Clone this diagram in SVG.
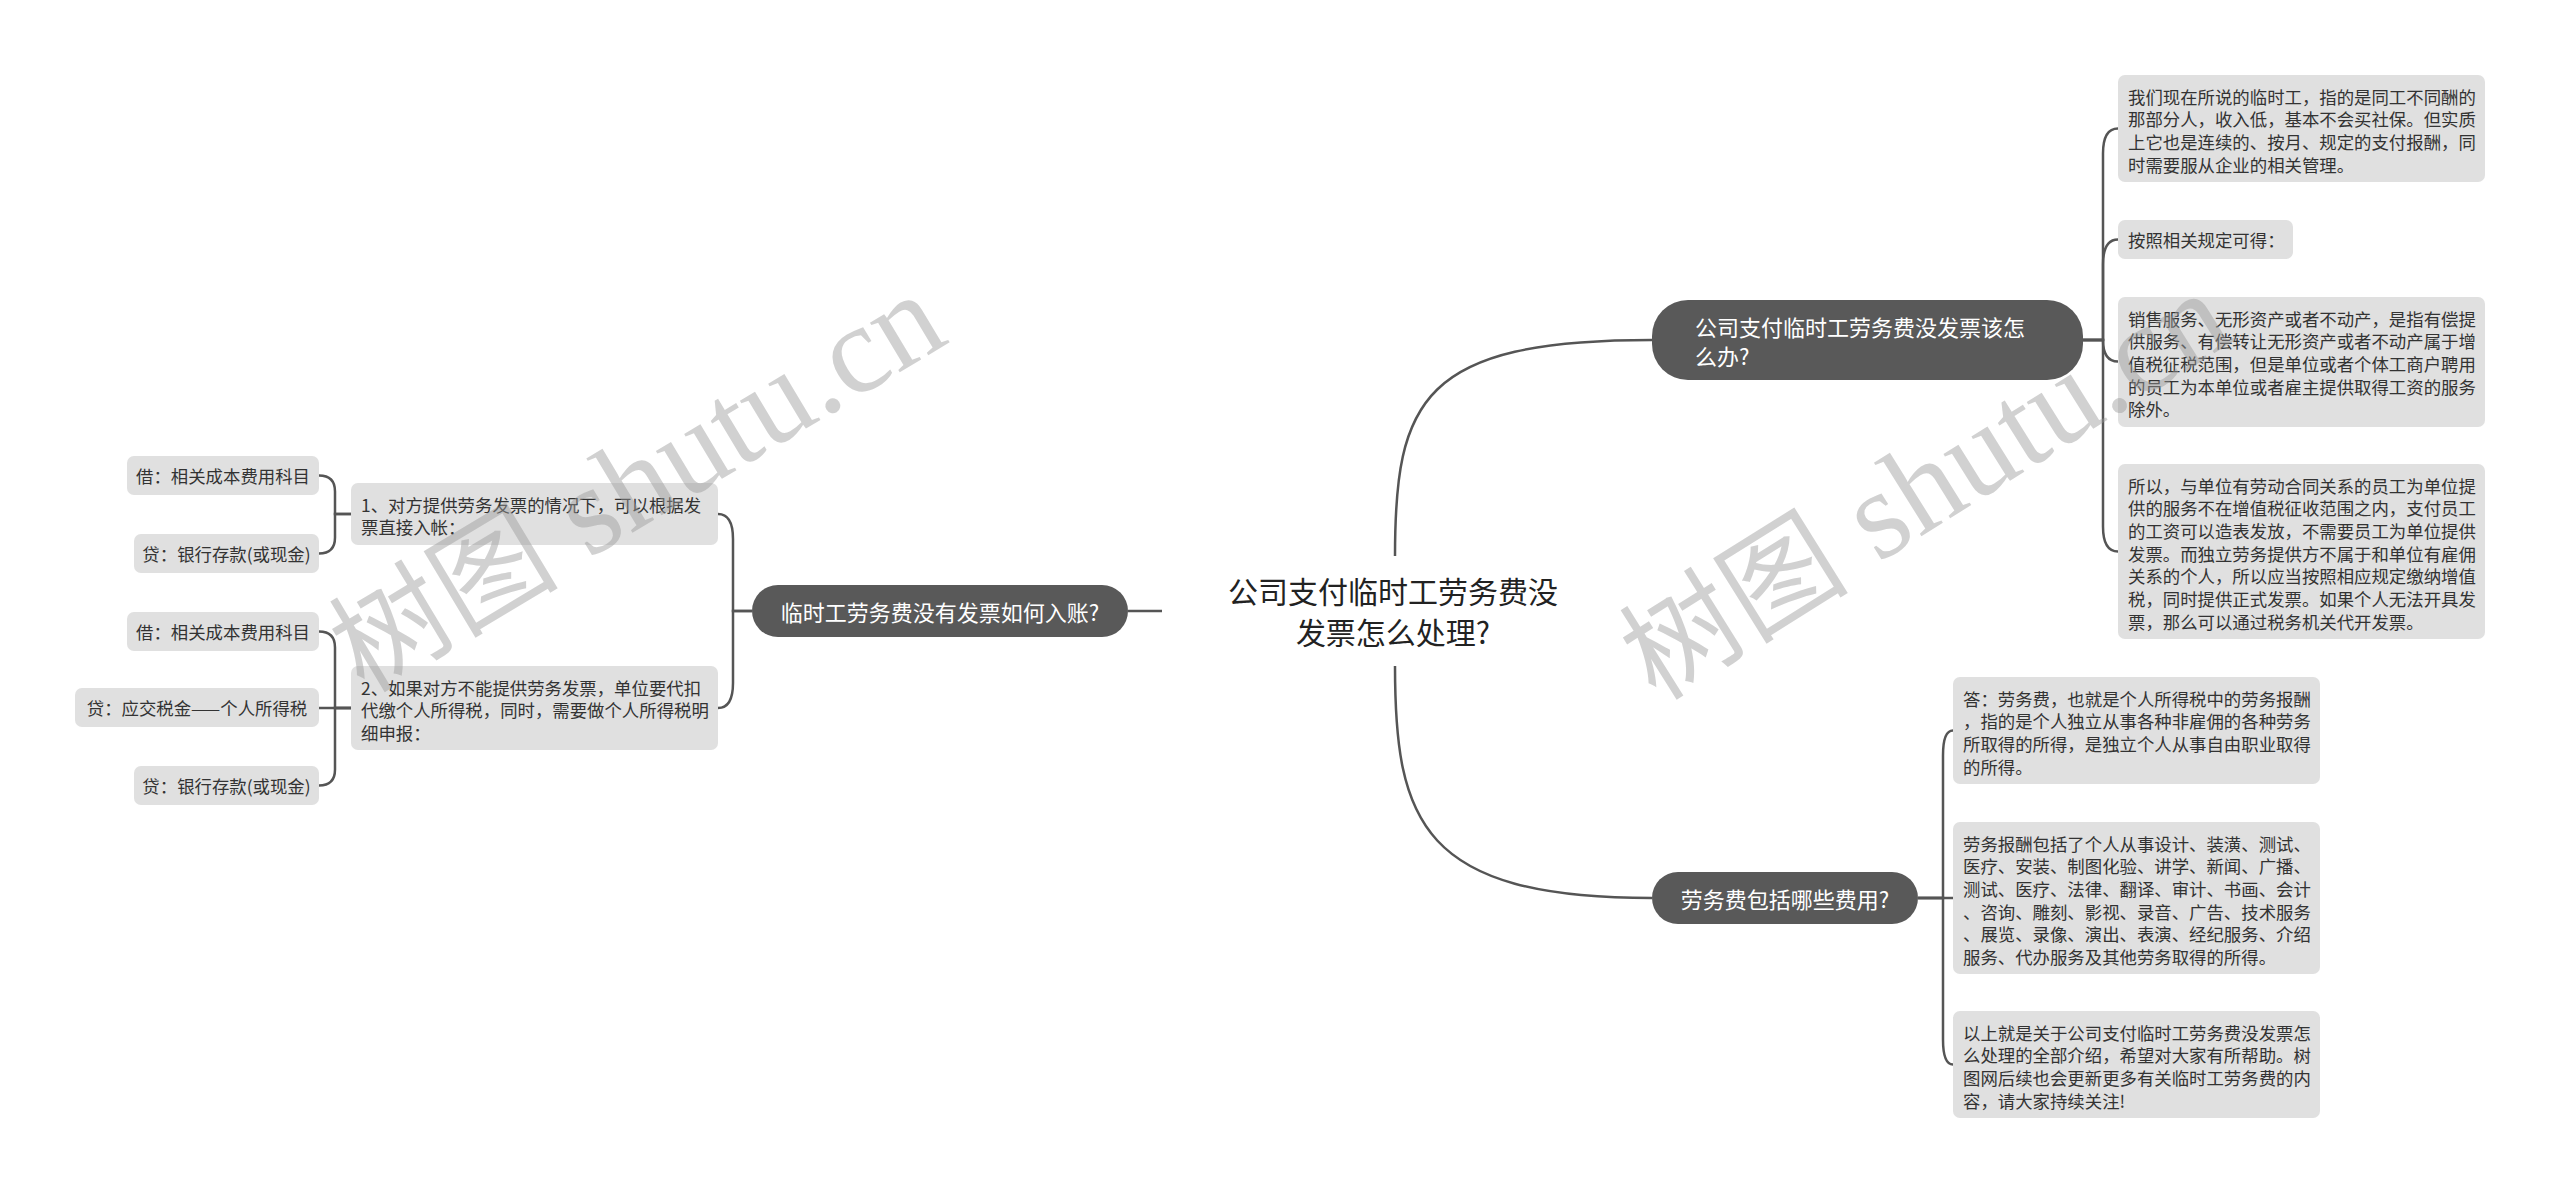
<svg xmlns="http://www.w3.org/2000/svg" width="2560" height="1193" viewBox="0 0 2560 1193">
<style>
.t{font-family:"Noto Sans CJK SC","Noto Sans",sans-serif;fill:#333;font-size:17.4px;dominant-baseline:central}
.box{fill:#e0e0e0}
.dk{fill:#595959}
.dt{font-family:"Noto Sans CJK SC","Noto Sans",sans-serif;fill:#fff;font-size:22px;dominant-baseline:central}
.root{font-family:"Noto Sans CJK SC","Noto Sans",sans-serif;fill:#222;font-size:30px;dominant-baseline:central;text-anchor:middle}
.c{fill:none;stroke:#555;stroke-width:2.5}
.wm{font-family:"Liberation Serif","Noto Sans CJK SC",serif;fill:#9a9a9a;fill-opacity:0.45}
</style>
<rect width="2560" height="1193" fill="#fff"/>
<g id="connectors">
<path class="c" d="M1395,556 C1395,400 1422,340 1652,340"/>
<path class="c" d="M1395,666 C1395,822 1422,898 1652,898"/>
<path class="c" d="M1162,611 H1128"/>
<path class="c" d="M752,611 H733 V539 Q733,514 718,514"/>
<path class="c" d="M752,611 H733 V683 Q733,708 718,708"/>
<path class="c" d="M351,514 H335 V491.5 Q335,475.5 319,475.5"/>
<path class="c" d="M351,514 H335 V537.5 Q335,553.5 319,553.5"/>
<path class="c" d="M351,708 H335 V647.5 Q335,631.5 319,631.5"/>
<path class="c" d="M351,708 H319"/>
<path class="c" d="M351,708 H335 V769.5 Q335,785.5 319,785.5"/>
<path class="c" d="M2083,340 H2103 V153.5 Q2103,128.5 2118,128.5"/>
<path class="c" d="M2083,340 H2103 V264.5 Q2103,239.5 2118,239.5"/>
<path class="c" d="M2083,340 H2103 Q2103,361.5 2118,361.5"/>
<path class="c" d="M2083,340 H2103 V526.5 Q2103,551.5 2118,551.5"/>
<path class="c" d="M1918,898 H1943 V755.5 Q1943,730.5 1953,730.5"/>
<path class="c" d="M1918,898 H1953"/>
<path class="c" d="M1918,898 H1943 V1039.5 Q1943,1064.5 1953,1064.5"/>
</g>
<g id="root">
<text class="root" x="1393" y="590">公司支付临时工劳务费没</text>
<text class="root" x="1393" y="631">发票怎么处理?</text>
</g>
<g id="n-top">
<rect class="dk" x="1652" y="300" width="431" height="80" rx="36"/>
<text class="dt" x="1695"><tspan x="1695" y="325.5">公司支付临时工劳务费没发票该怎</tspan><tspan x="1695" y="354.5">么办?</tspan></text>
</g>
<g id="n-bottom">
<rect class="dk" x="1652" y="872" width="266" height="52" rx="26"/>
<text class="dt" x="1785" y="898" text-anchor="middle">劳务费包括哪些费用?</text>
</g>
<g id="n-left">
<rect class="dk" x="752" y="585" width="376" height="52" rx="26"/>
<text class="dt" x="940" y="611" text-anchor="middle">临时工劳务费没有发票如何入账?</text>
</g>
<g id="r1">
<rect class="box" x="2118" y="75" width="367" height="107" rx="7"/>
<text class="t"><tspan x="2128" y="95.5">我们现在所说的临时工，指的是同工不同酬的</tspan><tspan x="2128" y="118.2">那部分人，收入低，基本不会买社保。但实质</tspan><tspan x="2128" y="140.8">上它也是连续的、按月、规定的支付报酬，同</tspan><tspan x="2128" y="163.5">时需要服从企业的相关管理。</tspan></text>
</g>
<g id="r2">
<rect class="box" x="2118" y="220" width="175" height="39" rx="7"/>
<text class="t" x="2128" y="239.5">按照相关规定可得：</text>
</g>
<g id="r3">
<rect class="box" x="2118" y="297" width="367" height="130" rx="7"/>
<text class="t"><tspan x="2128" y="317.5">销售服务、无形资产或者不动产，是指有偿提</tspan><tspan x="2128" y="340.2">供服务、有偿转让无形资产或者不动产属于增</tspan><tspan x="2128" y="362.8">值税征税范围，但是单位或者个体工商户聘用</tspan><tspan x="2128" y="385.5">的员工为本单位或者雇主提供取得工资的服务</tspan><tspan x="2128" y="408.2">除外。</tspan></text>
</g>
<g id="r4">
<rect class="box" x="2118" y="464" width="367" height="175" rx="7"/>
<text class="t"><tspan x="2128" y="484.5">所以，与单位有劳动合同关系的员工为单位提</tspan><tspan x="2128" y="507.2">供的服务不在增值税征收范围之内，支付员工</tspan><tspan x="2128" y="529.8">的工资可以造表发放，不需要员工为单位提供</tspan><tspan x="2128" y="552.5">发票。而独立劳务提供方不属于和单位有雇佣</tspan><tspan x="2128" y="575.2">关系的个人，所以应当按照相应规定缴纳增值</tspan><tspan x="2128" y="597.8">税，同时提供正式发票。如果个人无法开具发</tspan><tspan x="2128" y="620.5">票，那么可以通过税务机关代开发票。</tspan></text>
</g>
<g id="b1">
<rect class="box" x="1953" y="677" width="367" height="107" rx="7"/>
<text class="t"><tspan x="1963" y="697.5">答：劳务费，也就是个人所得税中的劳务报酬</tspan><tspan x="1963" y="720.2">，指的是个人独立从事各种非雇佣的各种劳务</tspan><tspan x="1963" y="742.8">所取得的所得，是独立个人从事自由职业取得</tspan><tspan x="1963" y="765.5">的所得。</tspan></text>
</g>
<g id="b2">
<rect class="box" x="1953" y="822" width="367" height="152" rx="7"/>
<text class="t"><tspan x="1963" y="842.5">劳务报酬包括了个人从事设计、装潢、测试、</tspan><tspan x="1963" y="865.2">医疗、安装、制图化验、讲学、新闻、广播、</tspan><tspan x="1963" y="887.8">测试、医疗、法律、翻译、审计、书画、会计</tspan><tspan x="1963" y="910.5">、咨询、雕刻、影视、录音、广告、技术服务</tspan><tspan x="1963" y="933.2">、展览、录像、演出、表演、经纪服务、介绍</tspan><tspan x="1963" y="955.8">服务、代办服务及其他劳务取得的所得。</tspan></text>
</g>
<g id="b3">
<rect class="box" x="1953" y="1011" width="367" height="107" rx="7"/>
<text class="t"><tspan x="1963" y="1031.5">以上就是关于公司支付临时工劳务费没发票怎</tspan><tspan x="1963" y="1054.2">么处理的全部介绍，希望对大家有所帮助。树</tspan><tspan x="1963" y="1076.8">图网后续也会更新更多有关临时工劳务费的内</tspan><tspan x="1963" y="1099.5">容，请大家持续关注!</tspan></text>
</g>
<g id="l1">
<rect class="box" x="351" y="483" width="367" height="62" rx="7"/>
<text class="t"><tspan x="361" y="503.5">1、对方提供劳务发票的情况下，可以根据发</tspan><tspan x="361" y="526.2">票直接入帐：</tspan></text>
</g>
<g id="l2">
<rect class="box" x="351" y="666" width="367" height="84" rx="7"/>
<text class="t"><tspan x="361" y="686.5">2、如果对方不能提供劳务发票，单位要代扣</tspan><tspan x="361" y="709.2">代缴个人所得税，同时，需要做个人所得税明</tspan><tspan x="361" y="731.8">细申报：</tspan></text>
</g>
<g id="l1a">
<rect class="box" x="127" y="456" width="192" height="39" rx="7"/>
<text class="t" x="223" y="475.5" text-anchor="middle">借：相关成本费用科目</text>
</g>
<g id="l1b">
<rect class="box" x="134" y="534" width="185" height="39" rx="7"/>
<text class="t" x="226.5" y="553.5" text-anchor="middle">贷：银行存款(或现金)</text>
</g>
<g id="l2a">
<rect class="box" x="127" y="612" width="192" height="39" rx="7"/>
<text class="t" x="223" y="631.5" text-anchor="middle">借：相关成本费用科目</text>
</g>
<g id="l2b">
<rect class="box" x="75" y="688" width="244" height="39" rx="7"/>
<text class="t" x="197" y="707.5" text-anchor="middle">贷：应交税金——个人所得税</text>
</g>
<g id="l2c">
<rect class="box" x="134" y="766" width="185" height="39" rx="7"/>
<text class="t" x="226.5" y="785.5" text-anchor="middle">贷：银行存款(或现金)</text>
</g>
<g id="watermarks">
<text class="wm" x="364" y="694" transform="rotate(-31 364 694)"><tspan font-size="115">树图</tspan><tspan font-size="126"> shutu.cn</tspan></text>
<text class="wm" x="1656" y="702" transform="rotate(-32 1656 702)"><tspan font-size="115">树图</tspan><tspan font-size="126"> shutu.cn</tspan></text>
</g>
</svg>
